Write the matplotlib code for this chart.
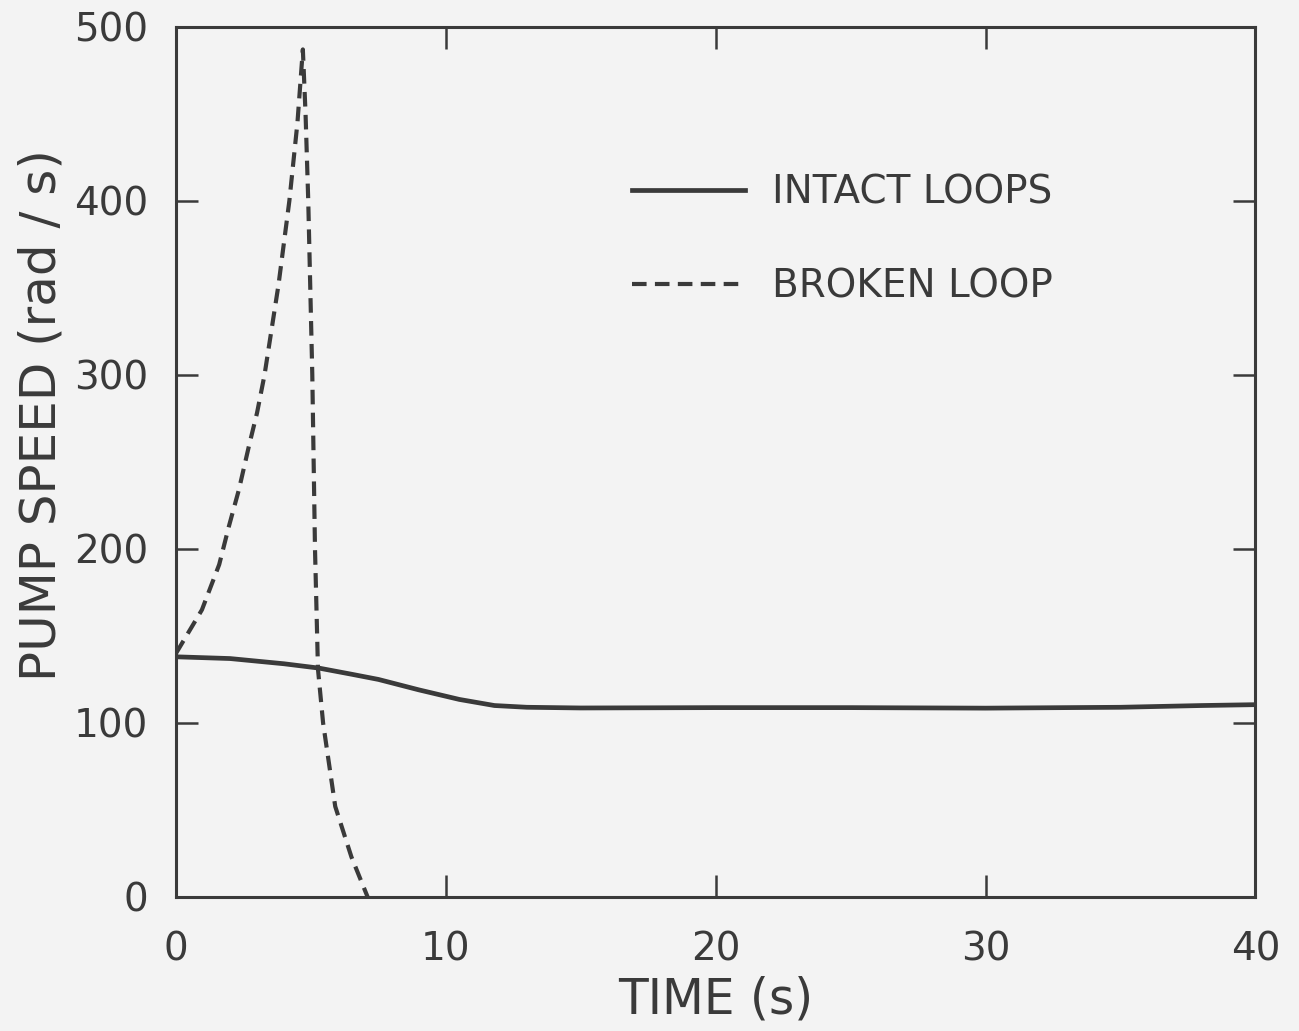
import matplotlib.pyplot as plt

# Intact loops pump speed (rad/s) vs time (s)
intact_t = [0, 2, 4, 5.3, 6.5, 7.5, 9, 10.5, 11.8, 13, 15, 20, 25, 30, 35, 38, 40]
intact_speed = [138, 137, 134, 131.5, 128, 125, 119, 113.5, 110, 109, 108.6, 108.8, 108.8, 108.5, 109, 110, 110.5]

# Broken loop pump speed (rad/s) vs time (s)
broken_t = [0, 0.96, 1.6, 1.96, 2.33, 2.7, 3.0, 3.28, 3.8, 4.2, 4.5, 4.7,
            4.8, 4.9, 5.05, 5.15, 5.26, 5.45, 5.9, 6.5, 7.1]
broken_speed = [140, 165, 191, 213, 234, 259, 278, 300, 352, 400, 445, 487,
                450, 400, 300, 200, 131, 100, 52, 23, 0]

ink = '#3a3a3a'
bg = '#f3f3f3'

fig = plt.figure(figsize=(12.99, 10.31), dpi=100, facecolor=bg)
ax = fig.add_axes([0.1355, 0.130, 0.831, 0.844], facecolor=bg)

ax.plot(intact_t, intact_speed, '-', color=ink, linewidth=3.4, label='INTACT LOOPS')
ax.plot(broken_t, broken_speed, '--', color=ink, linewidth=3.0, dashes=(3.5, 2.0), label='BROKEN LOOP')

ax.set_xlim(0, 40)
ax.set_ylim(0, 500)
ax.set_xticks([0, 10, 20, 30, 40])
ax.set_yticks([0, 100, 200, 300, 400, 500])

for s in ax.spines.values():
    s.set_color(ink)
    s.set_linewidth(2.2)

ax.tick_params(direction='in', length=16, width=1.8, color=ink, labelcolor=ink,
               labelsize=28, top=True, right=True)
ax.tick_params(axis='y', pad=20)
ax.tick_params(axis='x', pad=24)

ax.set_xlabel('TIME (s)', fontsize=35, color=ink, labelpad=5)
ax.set_ylabel('PUMP SPEED (rad / s)', fontsize=36, color=ink)
ax.yaxis.set_label_coords(-0.102, 0.554)

leg = ax.legend(loc='upper left', bbox_to_anchor=(0.39, 0.872), frameon=False,
                fontsize=28, handlelength=2.9, handletextpad=0.7, labelspacing=1.45)
for t in leg.get_texts():
    t.set_color(ink)

fig.savefig('out.png', dpi=100, facecolor=bg)
